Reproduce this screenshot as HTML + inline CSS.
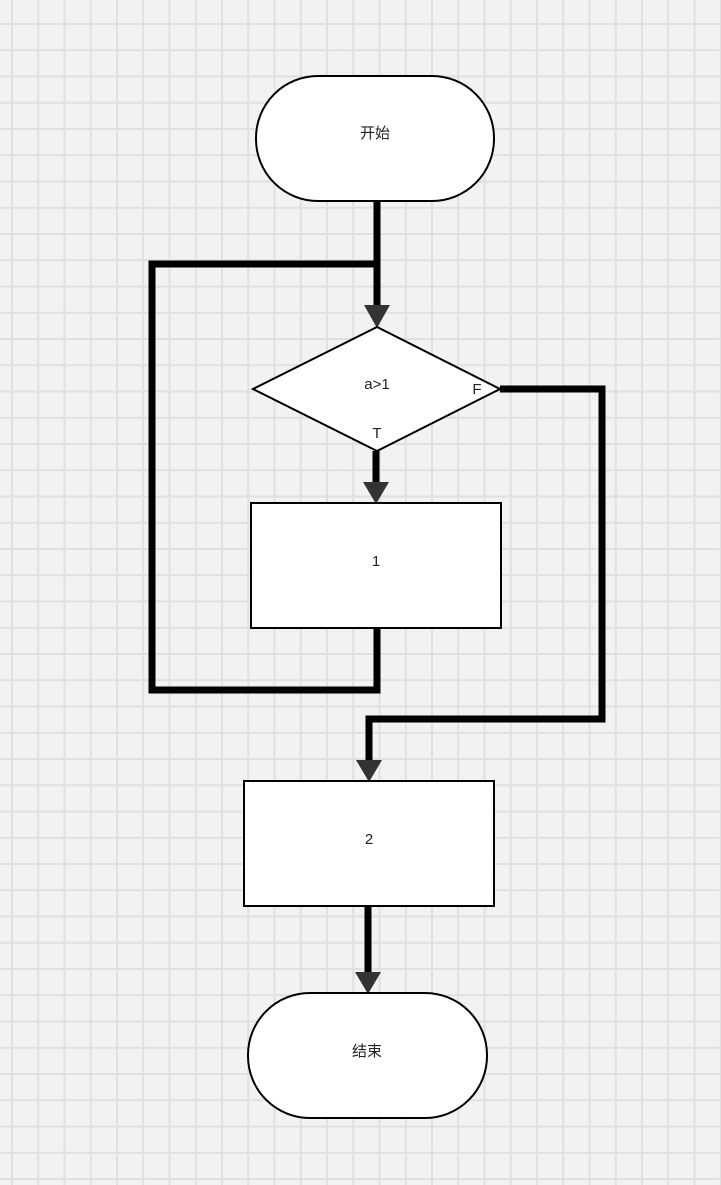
<!DOCTYPE html>
<html><head><meta charset="utf-8"><style>
html,body{margin:0;padding:0;}
body{width:721px;height:1185px;overflow:hidden;background:#f2f2f2;}
svg{display:block;}
text{font-family:"Liberation Sans","Noto Sans CJK SC",sans-serif;font-size:15px;fill:#222;}
</style></head><body>
<svg width="721" height="1185" viewBox="0 0 721 1185" xmlns="http://www.w3.org/2000/svg">
<defs>
<pattern id="g" x="12" y="24" width="26.25" height="26.25" patternUnits="userSpaceOnUse">
<rect x="-1" y="0" width="2" height="26.25" fill="#e0e0e0"/>
<rect x="0" y="-1" width="26.25" height="2" fill="#e0e0e0"/>
<rect x="25.25" y="0" width="2" height="26.25" fill="#e0e0e0"/>
<rect x="0" y="25.25" width="26.25" height="2" fill="#e0e0e0"/>
</pattern>
</defs>
<rect width="721" height="1185" fill="url(#g)"/>
<g fill="none" stroke="#000" stroke-width="7" stroke-linejoin="miter">
<polyline points="377,201 377,310"/>
<polyline points="377,264 152,264 152,690 377,690 377,628"/>
<polyline points="376,451 376,486"/>
<polyline points="500,389 602,389 602,719 369,719 369,764"/>
<polyline points="368,906 368,976"/>
</g>
<g fill="#333">
<polygon points="364,305 390,305 377,328"/>
<polygon points="363,482 389,482 376,504"/>
<polygon points="356,760 382,760 369,782"/>
<polygon points="355,972 381,972 368,994"/>
</g>
<g fill="#fff" stroke="#000" stroke-width="2">
<rect x="256" y="76" width="238" height="125" rx="62" ry="62"/>
<polygon points="377,327 500,389 377,451 253,389"/>
<rect x="251" y="503" width="250" height="125"/>
<rect x="244" y="781" width="250" height="125"/>
<rect x="248" y="993" width="239" height="125" rx="62" ry="62"/>
</g>
<text x="375" y="138" text-anchor="middle">开始</text>
<text x="377" y="389" text-anchor="middle">a&gt;1</text>
<text x="477" y="394" text-anchor="middle">F</text>
<text x="377" y="438" text-anchor="middle">T</text>
<text x="376" y="566" text-anchor="middle">1</text>
<text x="369" y="844" text-anchor="middle">2</text>
<text x="367" y="1056" text-anchor="middle">结束</text>
</svg>
</body></html>
